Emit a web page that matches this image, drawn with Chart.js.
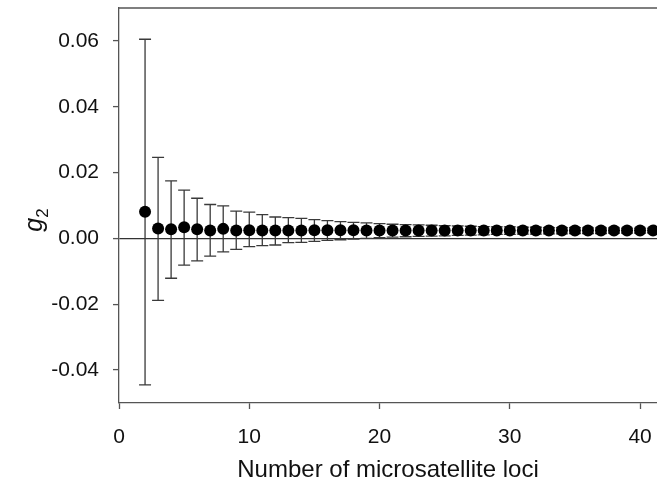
<!DOCTYPE html>
<html>
<head>
<meta charset="utf-8">
<script src="https://cdn.jsdelivr.net/npm/chart.js@4/dist/chart.umd.min.js"></script>
<style>
  html, body { margin: 0; padding: 0; background: #fff; }
  #wrap { width: 657px; height: 485px; position: relative; overflow: hidden; }
</style>
</head>
<body>
<div id="wrap"><canvas id="c" width="657" height="485"></canvas></div>
<script>
// Number of microsatellite loci
const loci = [2,3,4,5,6,7,8,9,10,11,12,13,14,15,16,17,18,19,20,21,22,23,24,25,26,27,28,29,30,31,32,33,34,35,36,37,38,39,40,41];
// mean g2
const g2Mean = [0.0081,0.0030,0.0028,0.0034,0.0028,0.0024,0.0029,0.0024,0.0025,0.0024,0.0024,0.0024,0.0024,0.0025,0.0025,0.0025,0.0025,0.0024,0.0024,0.0024,0.0024,0.0024,0.0024,0.0024,0.0024,0.0024,0.0024,0.0024,0.0024,0.0024,0.0024,0.0024,0.0024,0.0024,0.0024,0.0024,0.0024,0.0024,0.0024,0.0024];
// upper error bar end
const g2Upper = [0.0605,0.0246,0.0175,0.0147,0.0122,0.0103,0.0099,0.0083,0.0080,0.0072,0.0065,0.0063,0.0061,0.0057,0.0054,0.0051,0.0049,0.0047,0.0045,0.0043,0.0042,0.0041,0.0040,0.0039,0.0038,0.0037,0.0036,0.0035,0.0035,0.0034,0.0034,0.0033,0.0033,0.0033,0.0032,0.0032,0.0032,0.0031,0.0031,0.0031];
// lower error bar end
const g2Lower = [-0.0445,-0.0188,-0.0121,-0.0081,-0.0068,-0.0054,-0.0041,-0.0033,-0.0025,-0.0022,-0.0020,-0.0013,-0.0012,-0.0009,-0.0006,-0.0004,-0.0002,0.0000,0.0002,0.0004,0.0005,0.0006,0.0007,0.0008,0.0009,0.0010,0.0011,0.0012,0.0012,0.0013,0.0013,0.0014,0.0014,0.0015,0.0015,0.0015,0.0016,0.0016,0.0016,0.0017];
const xTicks = [0,10,20,30,40];
const yTicks = [-0.04,-0.02,0.00,0.02,0.04,0.06];

const FONT = '"Liberation Sans", Arial, sans-serif';
const points = loci.map((x, i) => ({ x: x, y: g2Mean[i] }));

const errorBars = {
  id: 'errorBars',
  beforeDatasetsDraw(chart) {
    const { ctx, scales: { x, y }, chartArea } = chart;
    ctx.save();
    ctx.beginPath();
    ctx.rect(chartArea.left, chartArea.top, chartArea.right - chartArea.left, chartArea.bottom - chartArea.top);
    ctx.clip();
    ctx.strokeStyle = '#3a3a3a';
    ctx.lineWidth = 1.3;
    loci.forEach((lx, i) => {
      const px = x.getPixelForValue(lx);
      const pu = y.getPixelForValue(g2Upper[i]);
      const pl = y.getPixelForValue(g2Lower[i]);
      ctx.beginPath();
      ctx.moveTo(px, pu); ctx.lineTo(px, pl);
      ctx.moveTo(px - 6, pu); ctx.lineTo(px + 6, pu);
      ctx.moveTo(px - 6, pl); ctx.lineTo(px + 6, pl);
      ctx.stroke();
    });
    ctx.restore();
  }
};

const frame = {
  id: 'frame',
  afterDraw(chart) {
    const { ctx, chartArea } = chart;
    ctx.save();
    ctx.strokeStyle = '#555';
    ctx.lineWidth = 1.3;
    ctx.beginPath();
    ctx.moveTo(chartArea.left, chartArea.top);
    ctx.lineTo(chartArea.right, chartArea.top);
    ctx.stroke();
    // y-axis title: italic g with subscript 2, rotated
    const cy = 220;
    ctx.translate(42, cy);
    ctx.rotate(-Math.PI / 2);
    ctx.fillStyle = '#111';
    ctx.textBaseline = 'alphabetic';
    ctx.font = 'italic 25px ' + FONT;
    const gw = ctx.measureText('g').width;
    ctx.font = '17px ' + FONT;
    const sw = ctx.measureText('2').width;
    const total = gw + sw;
    ctx.font = 'italic 25px ' + FONT;
    ctx.textAlign = 'left';
    ctx.fillText('g', -total / 2, 0);
    ctx.font = '17px ' + FONT;
    ctx.fillText('2', -total / 2 + gw, 6);
    ctx.restore();
  }
};

new Chart(document.getElementById('c'), {
  type: 'scatter',
  data: {
    datasets: [{
      data: points,
      backgroundColor: '#000',
      borderColor: '#000',
      pointRadius: 6,
      pointHoverRadius: 6,
      borderWidth: 0
    }]
  },
  options: {
    responsive: false,
    animation: false,
    devicePixelRatio: 1,
    layout: { autoPadding: false, padding: { top: 8, right: 0, left: 0, bottom: 0 } },
    plugins: { legend: { display: false }, tooltip: { enabled: false } },
    scales: {
      x: {
        type: 'linear',
        min: 0,
        max: 41.3,
        afterBuildTicks: s => { s.ticks = xTicks.map(v => ({ value: v })); },
        afterFit: s => { s.height = 82; s.paddingRight = 0; s.paddingLeft = 0; },
        grid: { drawOnChartArea: false, tickLength: 6, tickColor: '#555', tickWidth: 1.3 },
        border: { color: '#555', width: 1.3 },
        ticks: { color: '#111', font: { family: FONT, size: 21 }, padding: 16, maxRotation: 0 },
        title: { display: true, text: 'Number of microsatellite loci', color: '#111', font: { family: FONT, size: 24 }, padding: { top: 4, bottom: 0 } }
      },
      y: {
        type: 'linear',
        min: -0.05,
        max: 0.07,
        afterBuildTicks: s => { s.ticks = yTicks.map(v => ({ value: v })); },
        afterFit: s => { s.width = 119; s.paddingTop = 0; s.paddingBottom = 0; },
        grid: {
          color: c => (c.tick && Math.abs(c.tick.value) < 1e-9) ? '#333' : 'rgba(0,0,0,0)',
          lineWidth: 1.2,
          tickLength: 6, tickColor: '#555', tickWidth: 1.3
        },
        border: { color: '#555', width: 1.3 },
        ticks: {
          color: '#111', font: { family: FONT, size: 21 }, padding: 14,
          callback: v => v.toFixed(2)
        }
      }
    }
  },
  plugins: [errorBars, frame]
});
</script>
</body>
</html>
